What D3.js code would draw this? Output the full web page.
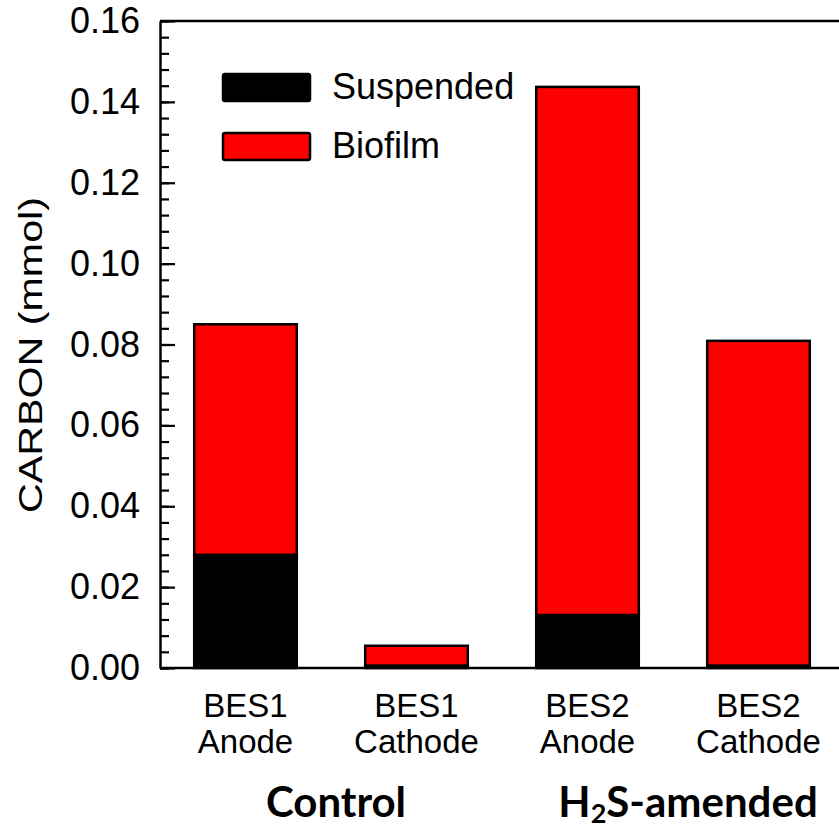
<!DOCTYPE html>
<html>
<head>
<meta charset="utf-8">
<script src="https://cdn.jsdelivr.net/npm/d3@7"></script>
<style>
  body { margin: 0; background: #fff; }
  svg { display: block; }
</style>
</head>
<body>
<div id="chart"></div>
<script>
// chart data
var categories = ['BES1 Anode', 'BES1 Cathode', 'BES2 Anode', 'BES2 Cathode'];
var suspended = [0.028, 0.0006, 0.0131, 0.0006];
var biofilm = [0.057, 0.0049, 0.1306, 0.0803];
var seriesNames = ['Suspended', 'Biofilm'];
var seriesColors = ['#000000', '#ff0000'];
var yTicks = [0, 0.02, 0.04, 0.06, 0.08, 0.10, 0.12, 0.14, 0.16];
var groups = ['Control', 'H2S-amended'];

var svgWidth = 839;
var svgHeight = 830;

var svg = d3.select('#chart')
  .append('svg')
  .attr('width', svgWidth)
  .attr('height', svgHeight);

// build table for the stack layout
var table = categories.map(function(c, i) {
  return { cat: c, Suspended: suspended[i], Biofilm: biofilm[i] };
});

var x = d3.scaleBand()
  .domain(categories)
  .range([160, 844])
  .paddingInner(0.4)
  .paddingOuter(0.2);

var y = d3.scaleLinear()
  .domain([0, 0.16])
  .range([668, 21]);

var font = '"Liberation Sans", Arial, sans-serif';

// stacked bars
var stacked = d3.stack().keys(seriesNames)(table);

svg.append('g')
  .selectAll('g')
  .data(stacked)
  .enter()
  .append('g')
  .attr('fill', function(d, i) { return seriesColors[i]; })
  .selectAll('rect')
  .data(function(d) { return d; })
  .enter()
  .append('rect')
  .attr('x', function(d) { return x(d.data.cat); })
  .attr('y', function(d) { return y(d[1]); })
  .attr('width', x.bandwidth())
  .attr('height', function(d) { return y(d[0]) - y(d[1]); })
  .attr('stroke', '#000')
  .attr('stroke-width', 2.5);

// minor ticks (inward)
var minorTicks = d3.range(0, 0.1601, 0.004);
svg.append('g')
  .attr('transform', 'translate(160,0)')
  .call(d3.axisLeft(y).tickValues(minorTicks).tickSize(-9).tickSizeOuter(0).tickFormat(''))
  .call(function(g) { g.select('.domain').remove(); })
  .selectAll('line')
  .attr('stroke', '#000')
  .attr('stroke-width', 2.2);

// left axis with major ticks
var yAxis = svg.append('g')
  .attr('transform', 'translate(160,0)')
  .call(d3.axisLeft(y)
    .tickValues(yTicks)
    .tickSize(-15)
    .tickSizeOuter(0)
    .tickPadding(20)
    .tickFormat(d3.format('.2f')));

yAxis.select('.domain').attr('stroke', '#000').attr('stroke-width', 2.5);
yAxis.selectAll('.tick line').attr('stroke', '#000').attr('stroke-width', 2.2);
yAxis.selectAll('.tick text')
  .attr('font-family', font)
  .attr('font-size', 36)
  .attr('fill', '#000');

// bottom axis line and top frame line
svg.append('line')
  .attr('x1', 160).attr('x2', 844)
  .attr('y1', y(0)).attr('y2', y(0))
  .attr('stroke', '#000').attr('stroke-width', 2.5);
svg.append('line')
  .attr('x1', 160).attr('x2', 844)
  .attr('y1', y(0.16)).attr('y2', y(0.16))
  .attr('stroke', '#000').attr('stroke-width', 2.5);

// category labels, two lines each
var catLabels = svg.append('g');
categories.forEach(function(c) {
  var parts = c.split(' ');
  var t = catLabels.append('text')
    .attr('x', x(c) + x.bandwidth() / 2)
    .attr('y', 717)
    .attr('text-anchor', 'middle')
    .attr('font-family', font)
    .attr('font-size', 33)
    .attr('fill', '#000');
  t.append('tspan').attr('x', x(c) + x.bandwidth() / 2).text(parts[0]);
  t.append('tspan').attr('x', x(c) + x.bandwidth() / 2).attr('dy', 36).text(parts[1]);
});

// group labels
var boldFont = 'Lato, "Open Sans", sans-serif';
var ctrlX = (x(categories[0]) + x(categories[1]) + x.bandwidth()) / 2 + 5;
svg.append('text')
  .attr('x', ctrlX)
  .attr('y', 817)
  .attr('text-anchor', 'middle')
  .attr('font-family', boldFont)
  .attr('font-weight', 700)
  .attr('font-size', 42)
  .text(groups[0]);

var h2sX = (x(categories[2]) + x(categories[3]) + x.bandwidth()) / 2 + 15;
var h2s = svg.append('text')
  .attr('x', h2sX)
  .attr('y', 817)
  .attr('text-anchor', 'middle')
  .attr('font-family', boldFont)
  .attr('font-weight', 700)
  .attr('font-size', 42);
h2s.append('tspan').text('H');
h2s.append('tspan').attr('font-size', 27).attr('dy', 6).text('2');
h2s.append('tspan').attr('dy', -6).text('S-amended');

// y axis title
svg.append('text')
  .attr('transform', 'translate(42,355) rotate(-90)')
  .attr('text-anchor', 'middle')
  .attr('font-family', font)
  .attr('font-size', 33)
  .attr('textLength', 316)
  .attr('lengthAdjust', 'spacingAndGlyphs')
  .text('CARBON (mmol)');

// legend
var legend = svg.append('g');
var legendY = [74, 133];
seriesNames.forEach(function(name, i) {
  legend.append('rect')
    .attr('x', 223)
    .attr('y', legendY[i])
    .attr('width', 87)
    .attr('height', 27)
    .attr('rx', 2)
    .attr('fill', seriesColors[i])
    .attr('stroke', '#000')
    .attr('stroke-width', 2.5);
  legend.append('text')
    .attr('x', 332)
    .attr('y', legendY[i] + 25)
    .attr('font-family', font)
    .attr('font-size', 36)
    .attr('fill', '#000')
    .text(name);
});
</script>
</body>
</html>
